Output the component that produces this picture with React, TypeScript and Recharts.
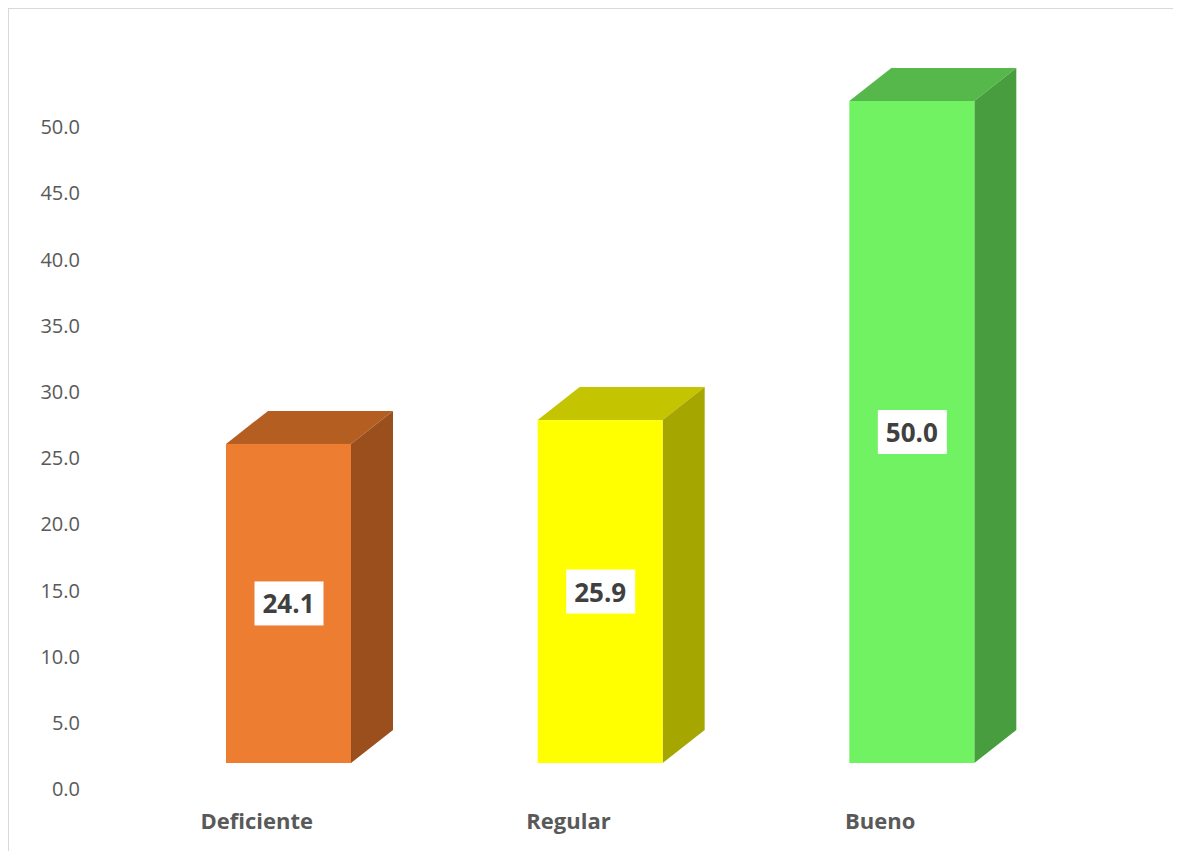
import React from 'react';
import { BarChart, Bar, XAxis, YAxis } from 'recharts';

// values
const categories = ['Deficiente', 'Regular', 'Bueno'];
const percentages = [24.1, 25.9, 50.0];
const yTicks = [0, 5, 10, 15, 20, 25, 30, 35, 40, 45, 50];

const data = categories.map((name, i) => ({ name, value: percentages[i] }));

// front / top / side colours for each bar
const PALETTE = [
  { front: '#ED7D31', top: '#B55E22', side: '#9A4F1D' },
  { front: '#FFFF00', top: '#C4C400', side: '#A6A600' },
  { front: '#71F263', top: '#56B84A', side: '#489E3E' },
];

// 3D offsets (the box is pushed right/up and has depth)
const SHIFT_X = 32;
const SHIFT_Y = -26;
const DEPTH_X = 42;
const DEPTH_Y = -33;

const FONT = '"Open Sans", "Noto Sans", sans-serif';

const Box3D = (props: any) => {
  const { x, y, width, height, index, payload } = props;
  const c = PALETTE[index % PALETTE.length];
  const fx = x + SHIFT_X;
  const fy = y + SHIFT_Y;
  const top = `${fx},${fy} ${fx + DEPTH_X},${fy + DEPTH_Y} ${fx + width + DEPTH_X},${fy + DEPTH_Y} ${fx + width},${fy}`;
  const side = `${fx + width},${fy} ${fx + width + DEPTH_X},${fy + DEPTH_Y} ${fx + width + DEPTH_X},${fy + height + DEPTH_Y} ${fx + width},${fy + height}`;
  const cx = fx + width / 2;
  const cy = fy + height / 2;
  return (
    <g>
      <polygon points={top} fill={c.top} />
      <polygon points={side} fill={c.side} />
      <rect x={fx} y={fy} width={width} height={height} fill={c.front} />
      <rect x={cx - 34} y={cy - 22} width={69} height={44} fill="#ffffff" />
      <text
        x={cx}
        y={cy}
        textAnchor="middle"
        dominantBaseline="central"
        fontFamily={FONT}
        fontSize={26}
        fontWeight="bold"
        fill="#404040"
      >
        {Number(payload.value).toFixed(1)}
      </text>
    </g>
  );
};

export default function App() {
  return (
    <div
      style={{
        width: 1173,
        height: 843,
        boxSizing: 'border-box',
        borderTop: '1px solid #d9d9d9',
        borderLeft: '1px solid #d9d9d9',
        background: '#fff',
      }}
    >
      <BarChart
        width={1172}
        height={842}
        data={data}
        margin={{ top: 118, right: 145, left: 0, bottom: 0 }}
      >
        <XAxis
          dataKey="name"
          axisLine={false}
          tickLine={false}
          tickSize={0}
          tickMargin={24}
          height={62}
          tick={{ fontFamily: FONT, fontSize: 22, fontWeight: 'bold', fill: '#595959' }}
        />
        <YAxis
          domain={[0, 50]}
          ticks={yTicks}
          tickFormatter={(v: number) => v.toFixed(1)}
          axisLine={false}
          tickLine={false}
          tickSize={0}
          tickMargin={21}
          width={92}
          tick={{ fontFamily: FONT, fontSize: 20, fill: '#595959' }}
        />
        <Bar dataKey="value" barSize={125} shape={Box3D} isAnimationActive={false} />
      </BarChart>
    </div>
  );
}
